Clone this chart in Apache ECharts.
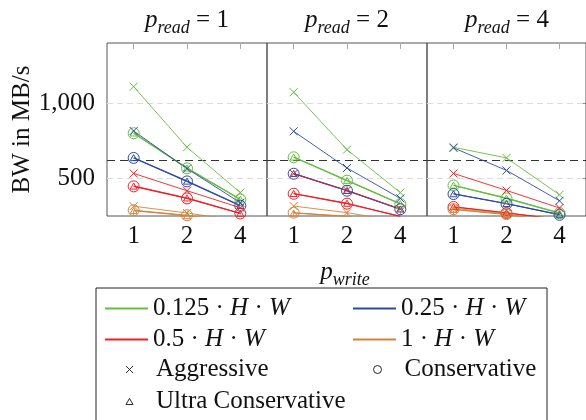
<!DOCTYPE html>
<html>
<head>
<meta charset="utf-8">
<script src="https://cdn.jsdelivr.net/npm/echarts@6/dist/echarts.min.js"></script>
<style>
html, body { margin: 0; padding: 0; background: #fff; }
#chart { width: 586px; height: 420px; }
</style>
</head>
<body>
<div id="chart"></div>
<script>
const pWrite = ['1', '2', '4'];
const pRead = ['1', '2', '4'];
const sizeNames = ['0.125', '0.25', '0.5', '1'];
const sizeColors = ['#64bf3c', '#2c4ba3', '#f01f26', '#d4843a'];
const strategies = ['Aggressive', 'Conservative', 'Ultra Conservative'];
const yTicks = [500, 1000];
const limitLine = 620;

// rows: 0.125, 0.25, 0.5, 1 (· H · W) ; columns: p_write = 1, 2, 4
const aggR1 = [[1110, 707, 405], [815, 565, 338], [533, 418, 305], [315, 270, 218]];
const conR1 = [[800, 567, 360], [636, 480, 318], [447, 367, 267], [288, 255, 200]];
const ultR1 = [[802, 569, 362], [638, 482, 320], [449, 370, 268], [286, 252, 198]];

const aggR2 = [[1073, 691, 405], [813, 569, 367], [531, 420, 296], [316, 272, 215]];
const conR2 = [[640, 485, 330], [531, 418, 295], [398, 332, 248], [272, 248, 190]];
const ultR2 = [[642, 487, 332], [533, 420, 297], [400, 335, 246], [270, 246, 188]];

const aggR4 = [[707, 636, 391], [703, 553, 351], [533, 420, 303], [302, 265, 210]];
const conR4 = [[453, 367, 269], [396, 331, 258], [310, 270, 228], [295, 262, 205]];
const ultR4 = [[455, 369, 270], [398, 333, 259], [312, 272, 226], [293, 260, 203]];

const panelData = [
    [aggR1, conR1, ultR1],
    [aggR2, conR2, ultR2],
    [aggR4, conR4, ultR4]
];

const serif = 'Liberation Serif';
const crossIcon = 'path://M0,0L10,10M10,0L0,10';
const triIcon = 'path://M5,0L10,8.66L0,8.66Z';
const markerSymbols = [crossIcon, 'circle', triIcon];
const markerSizes = [8, 11, 7];
const lineWidths = [0.9, 1.1, 1.1];

const gridLeft = [107, 267, 427];

const chart = echarts.init(document.getElementById('chart'), null, { renderer: 'canvas' });

const grids = [];
const xAxes = [];
const yAxes = [];
const series = [];

gridLeft.forEach(function (left, p) {
    grids.push({
        left: left, top: 43, width: 160, height: 173,
        show: true, borderColor: '#555', borderWidth: 1,
        backgroundColor: 'transparent', containLabel: false
    });
    // bottom axis with labels
    xAxes.push({
        type: 'category', gridIndex: p, data: pWrite, position: 'bottom',
        boundaryGap: true,
        axisLine: { show: false },
        axisTick: { show: true, inside: true, alignWithLabel: true, length: 5, lineStyle: { color: '#aaa' } },
        axisLabel: { fontFamily: serif, fontSize: 25, color: '#111', margin: 8 },
        splitLine: { show: false }
    });
    // top axis, ticks only
    xAxes.push({
        type: 'category', gridIndex: p, data: pWrite, position: 'top',
        boundaryGap: true,
        axisLine: { show: false },
        axisTick: { show: true, inside: true, alignWithLabel: true, length: 6, lineStyle: { color: '#aaa' } },
        axisLabel: { show: false },
        splitLine: { show: false }
    });
    yAxes.push({
        type: 'value', gridIndex: p, min: 250, max: 1400,
        name: p === 0 ? 'BW in MB/s' : '',
        nameLocation: 'middle', nameRotate: 90, nameGap: 72,
        nameTextStyle: { fontFamily: serif, fontSize: 25, color: '#111' },
        axisLine: { show: false },
        axisTick: { show: p === 0, inside: true, length: 5, customValues: yTicks, lineStyle: { color: '#aaa' } },
        axisLabel: {
            show: p === 0, customValues: yTicks, fontFamily: serif, fontSize: 25, color: '#111', margin: 12,
            formatter: function (v) { return v >= 1000 ? Math.floor(v / 1000) + ',' + String(v % 1000).padStart(3, '0') : String(v); }
        },
        splitLine: { show: false }
    });

    // reference lines: light grid at tick values, black dashed limit
    series.push({
        type: 'line', xAxisIndex: p * 2, yAxisIndex: p,
        data: [null, null, null], silent: true, z: 1,
        markLine: {
            silent: true, z: 1, symbol: ['none', 'none'], label: { show: false }, animation: false,
            data: yTicks.map(function (v) {
                return { yAxis: v, lineStyle: { color: '#dcdcdc', type: [6, 4], width: 1 } };
            }).concat([{ yAxis: limitLine, lineStyle: { color: '#333', type: [8, 5], width: 1 } }])
        }
    });

    sizeNames.forEach(function (sz, k) {
        strategies.forEach(function (st, s) {
            series.push({
                name: st,
                type: 'line', xAxisIndex: p * 2, yAxisIndex: p,
                data: panelData[p][s][k],
                symbol: markerSymbols[s], symbolSize: markerSizes[s], symbolKeepAspect: true,
                showAllSymbol: true, silent: true, z: 3,
                lineStyle: { color: sizeColors[k], width: lineWidths[s] },
                itemStyle: { color: 'none', borderColor: sizeColors[k], borderWidth: 1 },
                emphasis: { disabled: true }
            });
        });
    });
});

// right-hand ticks on the last panel
yAxes.push({
    type: 'value', gridIndex: 2, min: 250, max: 1400, position: 'right',
    axisLine: { show: false },
    axisTick: { show: true, inside: true, length: 6, customValues: yTicks, lineStyle: { color: '#888' } },
    axisLabel: { show: false },
    splitLine: { show: false }
});

// legend-only series for the memory sizes
sizeNames.forEach(function (sz, k) {
    series.push({
        name: sz, type: 'line', xAxisIndex: 0, yAxisIndex: 0, data: [],
        itemStyle: { color: sizeColors[k] }, lineStyle: { color: sizeColors[k] }
    });
});

const legendRich = {
    n: { fontFamily: serif, fontSize: 25, color: '#111', lineHeight: 26 },
    i: { fontFamily: serif, fontSize: 25, fontStyle: 'italic', color: '#111', lineHeight: 26 },
    m: { fontFamily: serif, fontSize: 25, color: '#111', lineHeight: 26, padding: [0, 0, 0, 18] }
};

function sizeLabel(name) {
    return '{n|' + name + ' · }{i|H}{n| · }{i|W}';
}

function markLabel(name) {
    return '{m|' + name + '}';
}

const legendSpots = [
    { name: sizeNames[0], left: 105, cy: 309, kind: 'size', k: 0 },
    { name: sizeNames[1], left: 353, cy: 309, kind: 'size', k: 1 },
    { name: sizeNames[2], left: 105, cy: 340, kind: 'size', k: 2 },
    { name: sizeNames[3], left: 353, cy: 340, kind: 'size', k: 3 },
    { name: strategies[0], left: 123, cy: 370, kind: 'mark', s: 0 },
    { name: strategies[1], left: 371, cy: 370, kind: 'mark', s: 1 },
    { name: strategies[2], left: 123, cy: 402, kind: 'mark', s: 2 }
];

const legendMarkSize = [7, 8, 7];

const legends = legendSpots.map(function (spot) {
    const isSize = spot.kind === 'size';
    const item = isSize
        ? { name: spot.name, icon: 'rect', itemStyle: { color: sizeColors[spot.k], borderWidth: 0 } }
        : { name: spot.name, icon: markerSymbols[spot.s],
            itemStyle: { color: 'none', borderColor: '#111', borderWidth: 0.9 } };
    return {
        data: [item],
        left: isSize ? spot.left : spot.left + (8 - legendMarkSize[spot.s]) / 2,
        top: spot.cy - 13,
        padding: 0,
        itemWidth: isSize ? 43 : legendMarkSize[spot.s],
        itemHeight: isSize ? 2 : legendMarkSize[spot.s],
        symbolKeepAspect: true,
        selectedMode: false,
        formatter: isSize ? sizeLabel : markLabel,
        textStyle: { fontFamily: serif, fontSize: 25, color: '#111', rich: legendRich }
    };
});

const titleRich = {
    m: { fontFamily: serif, fontStyle: 'italic', fontSize: 25, lineHeight: 26, verticalAlign: 'middle', fill: '#111' },
    s: { fontFamily: serif, fontStyle: 'italic', fontSize: 18, lineHeight: 34, verticalAlign: 'bottom', fill: '#111' },
    r: { fontFamily: serif, fontSize: 25, lineHeight: 26, verticalAlign: 'middle', fill: '#111' }
};

const graphics = pRead.map(function (r, p) {
    return {
        type: 'text', x: gridLeft[p] + 80, y: 20,
        style: { text: '{m|p}{s|read}{r| = ' + r + '}', rich: titleRich, align: 'center', verticalAlign: 'middle' }
    };
});
graphics.push({
    type: 'text', x: 345, y: 272,
    style: { text: '{m|p}{s|write}', rich: titleRich, align: 'center', verticalAlign: 'middle' }
});
graphics.push({
    type: 'rect', shape: { x: 96, y: 288, width: 451, height: 150 },
    style: { fill: 'none', stroke: '#222', lineWidth: 1 }, z: -1
});

chart.setOption({
    animation: false,
    backgroundColor: '#fff',
    grid: grids,
    xAxis: xAxes,
    yAxis: yAxes,
    legend: legends,
    graphic: graphics,
    series: series
});
</script>
</body>
</html>
